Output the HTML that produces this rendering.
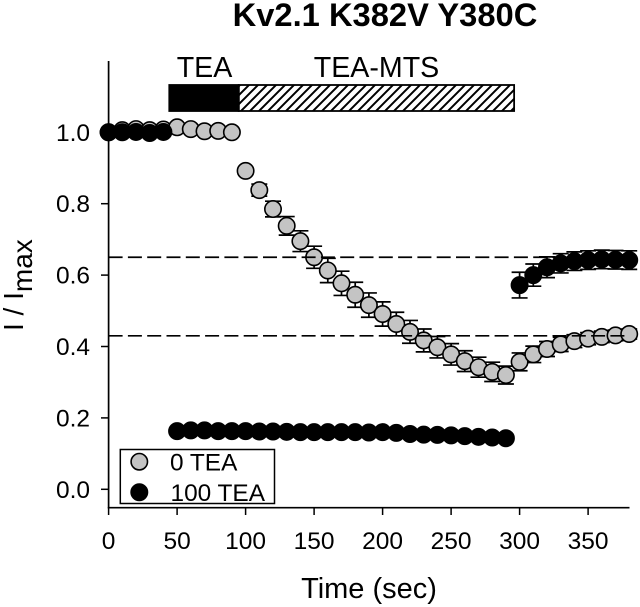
<!DOCTYPE html>
<html>
<head>
<meta charset="utf-8">
<title>Kv2.1 K382V Y380C</title>
<style>
html,body{margin:0;padding:0;background:#fff;}
body{width:640px;height:607px;overflow:hidden;}
svg{display:block;font-family:"Liberation Sans",Arial,sans-serif;}
</style>
</head>
<body>
<svg id="chart" width="640" height="607" viewBox="0 0 640 607" xmlns="http://www.w3.org/2000/svg">
<defs>
<pattern id="hatch" width="9" height="9" patternUnits="userSpaceOnUse" patternTransform="translate(1 0)">
<path d="M-2 2L2 -2M0 9L9 0M7 11L11 7" stroke="#000" stroke-width="2"/>
</pattern>
</defs>
<text x="385" y="26" text-anchor="middle" font-size="32.7" font-weight="bold">Kv2.1 K382V Y380C</text>
<text transform="translate(23 331) rotate(-90)" text-anchor="start" font-size="28">I / I<tspan dy="9">max</tspan></text>
<text x="369" y="598" text-anchor="middle" font-size="29">Time (sec)</text>
</svg>
<script>
var grayTimes = [0,10,20,30,40,50,60,70,80,90,100,110,120,130,140,150,160,170,180,190,200,210,220,230,240,250,260,270,280,290,300,310,320,330,340,350,360,370,380];
var grayValues = [1.0,1.006,1.009,1.006,1.008,1.014,1.009,1.003,1.004,1.0,.892,.838,.785,.738,.695,.650,.613,.577,.545,.516,.491,.463,.441,.417,.398,.378,.359,.342,.329,.320,.357,.378,.393,.406,.415,.422,.427,.431,.435];
var grayErrors = [.004,.004,.004,.004,.004,.004,.004,.004,.004,.004,.005,.017,.022,.026,.029,.031,.034,.034,.035,.034,.034,.033,.032,.032,.030,.030,.029,.028,.027,.025,.025,.023,.021,.020,.018,.017,.016,.015,.014];
var blackPreTimes = [0,10,20,30,40];
var blackPreValues = [1.0,1.0,1.001,.998,1.001];
var blackPreErrors = [.003,.003,.003,.003,.003];
var blackLowTimes = [50,60,70,80,90,100,110,120,130,140,150,160,170,180,190,200,210,220,230,240,250,260,270,280,290];
var blackLowValues = [.163,.165,.165,.163,.163,.163,.162,.162,.161,.160,.160,.160,.160,.160,.159,.160,.158,.155,.153,.1525,.151,.149,.147,.145,.143];
var blackLowErrors = [.003,.003,.003,.003,.003,.003,.003,.003,.003,.003,.003,.003,.003,.003,.003,.003,.003,.003,.003,.003,.003,.003,.003,.003,.003];
var blackHighTimes = [300,310,320,330,340,350,360,370,380];
var blackHighValues = [.572,.600,.622,.633,.639,.642,.644,.643,.642];
var blackHighErrors = [.036,.031,.029,.027,.026,.026,.026,.026,.026];
var xTicks = [0,50,100,150,200,250,300,350];
var yTicks = [0,0.2,0.4,0.6,0.8,1.0];
var referenceLevels = [0.65,0.43];
var treatmentLabels = ["TEA","TEA-MTS"];
var treatmentStarts = [44.3,95];
var treatmentEnds = [95,296];
var legendLabels = ["0 TEA","100 TEA"];

var NS = "http://www.w3.org/2000/svg";
var svg = document.getElementById("chart");
function sx(t){ return 108.6 + 1.37 * t; }
function sy(v){ return 489.3 - 357 * v; }
function make(tag, attrs, parent){
  var el = document.createElementNS(NS, tag);
  for (var k in attrs) el.setAttribute(k, attrs[k]);
  (parent || svg).appendChild(el);
  return el;
}
function line(x1,y1,x2,y2,w,parent){
  return make("line",{x1:x1,y1:y1,x2:x2,y2:y2,stroke:"#000","stroke-width":w},parent);
}

// axes
var axes = make("g",{});


var yAxis = line(108.6,61,108.6,508.4,1.7,axes);


var xAxis = line(107.8,507.7,629.5,507.7,1.7,axes);


xTicks.forEach(function(t){
  var tick = line(sx(t),507.7,sx(t),515,1.5,axes);
  
  
  var label = make("text",{x:sx(t),y:549,"text-anchor":"middle","font-size":24.5},axes);
  
  
  label.textContent = String(t);
});
yTicks.forEach(function(v){
  var tick = line(101,sy(v),108.6,sy(v),1.5,axes);
  
  
  var label = make("text",{x:90,y:sy(v)+8.5,"text-anchor":"end","font-size":24.5},axes);
  
  
  label.textContent = v.toFixed(1);
});

// treatment bars
treatmentLabels.forEach(function(name,i){
  var x0 = sx(treatmentStarts[i]), x1 = sx(treatmentEnds[i]);
  var bar = make("rect",{x:x0,y:85,width:x1-x0,height:26,fill:i===0?"#000":"url(#hatch)",stroke:"#000","stroke-width":1.8});
  
  
  var label = make("text",{x:i===0?204.5:376.5,y:77,"text-anchor":"middle","font-size":28.6});
  
  
  label.textContent = name;
});

// series
function drawSeries(times, values, errors, fill, name){
  var g = make("g",{});
  
  
  times.forEach(function(t,i){
    var x = sx(t), top = sy(values[i]+errors[i]), bot = sy(values[i]-errors[i]);
    var bar = make("path",{d:"M"+(x-8)+" "+top+"H"+(x+8)+"M"+x+" "+top+"V"+bot+"M"+(x-8)+" "+bot+"H"+(x+8),stroke:"#000","stroke-width":1.7,fill:"none"},g);
    
    
  });
  times.forEach(function(t,i){
    var c = make("circle",{cx:sx(t),cy:sy(values[i]),r:8.2,fill:fill,stroke:"#000","stroke-width":1.6},g);
    
    
  });
}
drawSeries(grayTimes, grayValues, grayErrors, "#c4c4c4", "series-0-tea");
referenceLevels.forEach(function(v){
  var ref = make("line",{x1:108.6,y1:sy(v),x2:628,y2:sy(v),stroke:"#000","stroke-width":1.7,"stroke-dasharray":"14 5.3"});
  
  
});
drawSeries(blackPreTimes, blackPreValues, blackPreErrors, "#000", "series-100-tea-baseline");
drawSeries(blackLowTimes, blackLowValues, blackLowErrors, "#000", "series-100-tea-block");
drawSeries(blackHighTimes, blackHighValues, blackHighErrors, "#000", "series-100-tea-recovery");

// legend
var legend = make("g",{});


var box = make("rect",{x:120.3,y:449.5,width:154.2,height:54,fill:"#fff",stroke:"#000","stroke-width":1.5},legend);


legendLabels.forEach(function(name,i){
  var cy = i===0 ? 461.7 : 492.3;
  var marker = make("circle",{cx:139.3,cy:cy,r:8.2,fill:i===0?"#c4c4c4":"#000",stroke:"#000","stroke-width":1.6},legend);
  
  
  var label = make("text",{x:i===0?170:170.5,y:i===0?470.7:501,"font-size":24.4},legend);
  
  
  label.textContent = name;
});
</script>
</body>
</html>
